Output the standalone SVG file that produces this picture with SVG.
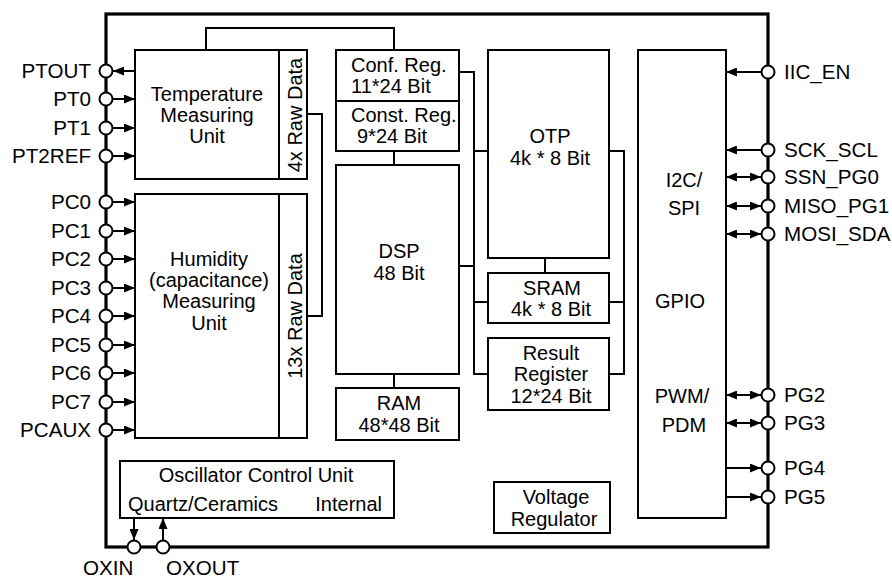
<svg xmlns="http://www.w3.org/2000/svg" width="892" height="578" viewBox="0 0 892 578">
<defs>
<style>
text{font-family:"Liberation Sans",Arial,sans-serif;font-size:20px;fill:#000}
.p{font-size:20.6px}
.c{text-anchor:middle}
.e{text-anchor:end}
.box{fill:#fff;stroke:#000;stroke-width:2}
.w{fill:none;stroke:#000;stroke-width:2}
.frame{fill:none;stroke:#000;stroke-width:3.2}
.pin{fill:#fff;stroke:#000;stroke-width:2}
.a{fill:none;stroke:#000;stroke-width:2}
</style>
<marker id="ah" viewBox="0 0 11 9" refX="11" refY="4.5" markerWidth="11" markerHeight="9" markerUnits="userSpaceOnUse" orient="auto-start-reverse">
<path d="M0,0L11,4.5L0,9z" fill="#000"/>
</marker>
</defs>
<rect width="892" height="578" fill="#fff"/>
<g id="frame"><rect class="frame" x="106" y="14" width="662" height="533"/></g>

<g id="connectors">
<path class="w" d="M206,50V28H394V50"/>
<path class="w" d="M394,101V165"/>
<path class="w" d="M394,374V388"/>
<path class="w" d="M307,114H322V316H307"/>
<path class="w" d="M459,72H474V374H488"/>
<path class="w" d="M474,151H488"/>
<path class="w" d="M459,266H474"/>
<path class="w" d="M474,302H488"/>
<path class="w" d="M545,258V273"/>
<path class="w" d="M609,151H624V374H609"/>
<path class="w" d="M609,302H624"/>
<!-- left pins -->
<path class="a" d="M135,71H113" marker-end="url(#ah)"/>
<path class="a" d="M113,99H135" marker-end="url(#ah)"/>
<path class="a" d="M113,128H135" marker-end="url(#ah)"/>
<path class="a" d="M113,156H135" marker-end="url(#ah)"/>
<path class="a" d="M113,202H135" marker-end="url(#ah)"/>
<path class="a" d="M113,231H135" marker-end="url(#ah)"/>
<path class="a" d="M113,259H135" marker-end="url(#ah)"/>
<path class="a" d="M113,288H135" marker-end="url(#ah)"/>
<path class="a" d="M113,316H135" marker-end="url(#ah)"/>
<path class="a" d="M113,345H135" marker-end="url(#ah)"/>
<path class="a" d="M113,373H135" marker-end="url(#ah)"/>
<path class="a" d="M113,402H135" marker-end="url(#ah)"/>
<path class="a" d="M113,430H135" marker-end="url(#ah)"/>
<!-- right pins -->
<path class="a" d="M761,72H726" marker-end="url(#ah)"/>
<path class="a" d="M761,150H726" marker-end="url(#ah)"/>
<path class="a" d="M726,177H761" marker-start="url(#ah)" marker-end="url(#ah)"/>
<path class="a" d="M726,206H761" marker-start="url(#ah)" marker-end="url(#ah)"/>
<path class="a" d="M726,234H761" marker-start="url(#ah)" marker-end="url(#ah)"/>
<path class="a" d="M726,395H761" marker-start="url(#ah)" marker-end="url(#ah)"/>
<path class="a" d="M726,423H761" marker-start="url(#ah)" marker-end="url(#ah)"/>
<path class="a" d="M726,468H761" marker-end="url(#ah)"/>
<path class="a" d="M726,497H761" marker-end="url(#ah)"/>
<!-- oscillator -->
<path class="a" d="M134,518V540" marker-end="url(#ah)"/>
<path class="a" d="M163,540V518" marker-end="url(#ah)"/>
</g>

<g id="temp">
<rect class="box" x="135" y="50" width="172" height="129"/>
<line class="w" x1="279" y1="50" x2="279" y2="179"/>
<text class="c" x="207" y="101">Temperature</text>
<text class="c" x="207" y="122">Measuring</text>
<text class="c" x="207" y="143">Unit</text>
<text class="c" transform="translate(301.5,115) rotate(-90)">4x Raw Data</text>
</g>
<g id="humidity">
<rect class="box" x="135" y="194" width="172" height="244"/>
<line class="w" x1="279" y1="194" x2="279" y2="438"/>
<text class="c" x="209" y="266">Humidity</text>
<text class="c" x="209" y="287">(capacitance)</text>
<text class="c" x="209" y="308">Measuring</text>
<text class="c" x="209" y="330">Unit</text>
<text class="c" transform="translate(301.5,316) rotate(-90)">13x Raw Data</text>
</g>
<g id="confreg">
<rect class="box" x="336" y="50" width="123" height="51"/>
<text x="351" y="72">Conf. Reg.</text>
<text x="351" y="93">11*24 Bit</text>
</g>
<g id="constreg">
<rect class="box" x="336" y="101" width="123" height="50"/>
<text x="351" y="122">Const. Reg.</text>
<text x="357" y="143">9*24 Bit</text>
</g>
<g id="dsp">
<rect class="box" x="336" y="165" width="123" height="209"/>
<text class="c" x="399" y="258">DSP</text>
<text class="c" x="399" y="280">48 Bit</text>
</g>
<g id="ram">
<rect class="box" x="336" y="388" width="123" height="52"/>
<text class="c" x="399" y="410">RAM</text>
<text class="c" x="399" y="432">48*48 Bit</text>
</g>
<g id="otp">
<rect class="box" x="488" y="50" width="121" height="208"/>
<text class="c" x="550" y="143">OTP</text>
<text class="c" x="550" y="165">4k * 8 Bit</text>
</g>
<g id="sram">
<rect class="box" x="488" y="273" width="121" height="50"/>
<text class="c" x="552" y="295">SRAM</text>
<text class="c" x="551" y="316">4k * 8 Bit</text>
</g>
<g id="result">
<rect class="box" x="488" y="338" width="121" height="72"/>
<text class="c" x="551" y="360">Result</text>
<text class="c" x="551" y="381">Register</text>
<text class="c" x="551" y="403">12*24 Bit</text>
</g>
<g id="gpio">
<rect class="box" x="638" y="50" width="88" height="468"/>
<text class="c" x="684" y="187">I2C/</text>
<text class="c" x="684" y="215">SPI</text>
<text class="c" x="680" y="308">GPIO</text>
<text class="c" x="682" y="403">PWM/</text>
<text class="c" x="684" y="432">PDM</text>
</g>
<g id="osc">
<rect class="box" x="120" y="461" width="274" height="57"/>
<text class="c" x="256" y="482">Oscillator Control Unit</text>
<text x="128" y="511">Quartz/Ceramics</text>
<text class="e" x="382" y="511">Internal</text>
</g>
<g id="vreg">
<rect class="box" x="494" y="482" width="116" height="51"/>
<text class="c" x="556" y="504">Voltage</text>
<text class="c" x="554" y="526">Regulator</text>
</g>

<g id="pins-left" class="p">
<circle class="pin" cx="106" cy="71" r="6.5"/><text class="e p" x="91" y="78">PTOUT</text>
<circle class="pin" cx="106" cy="99" r="6.5"/><text class="e p" x="91" y="106">PT0</text>
<circle class="pin" cx="106" cy="128" r="6.5"/><text class="e p" x="91" y="135">PT1</text>
<circle class="pin" cx="106" cy="156" r="6.5"/><text class="e p" x="91" y="163">PT2REF</text>
<circle class="pin" cx="106" cy="202" r="6.5"/><text class="e p" x="91" y="209">PC0</text>
<circle class="pin" cx="106" cy="231" r="6.5"/><text class="e p" x="91" y="238">PC1</text>
<circle class="pin" cx="106" cy="259" r="6.5"/><text class="e p" x="91" y="266">PC2</text>
<circle class="pin" cx="106" cy="288" r="6.5"/><text class="e p" x="91" y="295">PC3</text>
<circle class="pin" cx="106" cy="316" r="6.5"/><text class="e p" x="91" y="323">PC4</text>
<circle class="pin" cx="106" cy="345" r="6.5"/><text class="e p" x="91" y="352">PC5</text>
<circle class="pin" cx="106" cy="373" r="6.5"/><text class="e p" x="91" y="380">PC6</text>
<circle class="pin" cx="106" cy="402" r="6.5"/><text class="e p" x="91" y="409">PC7</text>
<circle class="pin" cx="106" cy="430" r="6.5"/><text class="e p" x="91" y="437">PCAUX</text>
</g>
<g id="pins-right">
<circle class="pin" cx="768" cy="72" r="6.5"/><text class="p" x="784" y="79">IIC_EN</text>
<circle class="pin" cx="768" cy="150" r="6.5"/><text class="p" x="784" y="157">SCK_SCL</text>
<circle class="pin" cx="768" cy="177" r="6.5"/><text class="p" x="784" y="184">SSN_PG0</text>
<circle class="pin" cx="768" cy="206" r="6.5"/><text class="p" x="784" y="213">MISO_PG1</text>
<circle class="pin" cx="768" cy="234" r="6.5"/><text class="p" x="784" y="241">MOSI_SDA</text>
<circle class="pin" cx="768" cy="395" r="6.5"/><text class="p" x="784" y="402">PG2</text>
<circle class="pin" cx="768" cy="423" r="6.5"/><text class="p" x="784" y="430">PG3</text>
<circle class="pin" cx="768" cy="468" r="6.5"/><text class="p" x="784" y="475">PG4</text>
<circle class="pin" cx="768" cy="497" r="6.5"/><text class="p" x="784" y="504">PG5</text>
</g>
<g id="pins-bottom">
<circle class="pin" cx="134" cy="547" r="6.5"/><text class="p" x="83" y="575">OXIN</text>
<circle class="pin" cx="163" cy="547" r="6.5"/><text class="p" x="166" y="575">OXOUT</text>
</g>
</svg>
